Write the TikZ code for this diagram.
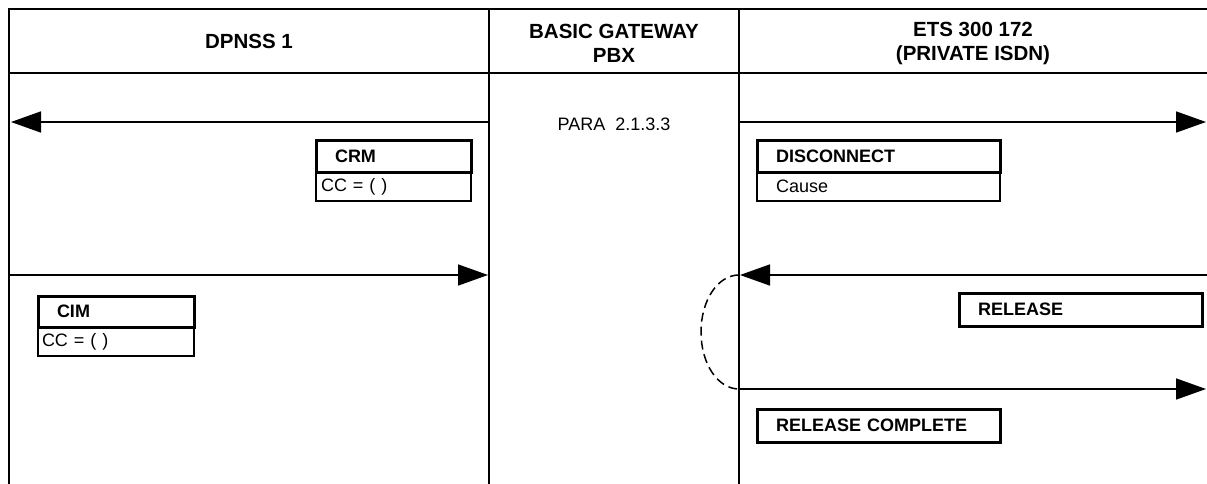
\documentclass[tikz,border=0pt]{standalone}
\usepackage{fontspec}
\setmainfont{Liberation Sans}
\usetikzlibrary{arrows.meta}
\begin{document}
\begin{tikzpicture}[x=1pt,y=-1pt,
  frame/.style={line width=2.6pt},
  lane/.style={line width=2.2pt},
  msgline/.style={line width=1.6pt, -{Triangle[length=30pt,width=21pt]}},
  hdr/.style={font=\fontsize{20.5}{24}\selectfont\bfseries, align=center, inner sep=0pt},
  mbox/.style={draw, line width=3pt, outer sep=0pt, anchor=north west, minimum height=31pt, inner xsep=19pt, inner ysep=0pt, align=left, font=\fontsize{18}{21}\selectfont\bfseries},
  pbox/.style={draw, line width=1.3pt, outer sep=0pt, anchor=north west, minimum height=29pt, inner ysep=0pt, align=left, font=\fontsize{18}{21}\selectfont},
  dashcurve/.style={line width=1.5pt, dash pattern=on 9pt off 5pt},
]
\useasboundingbox (0,0) rectangle (1207,484);

% frame and lifelines
\coordinate (tl) at (9,9);
\coordinate (tr) at (1207,9);
\coordinate (hl) at (9,73);
\coordinate (hr) at (1207,73);
\coordinate (l1t) at (9,8);   \coordinate (l1b) at (9,484);
\coordinate (l2t) at (489,8); \coordinate (l2b) at (489,484);
\coordinate (l3t) at (739,8); \coordinate (l3b) at (739,484);
\draw[frame] (tl) -- (tr);
\draw[frame] (hl) -- (hr);
\draw[lane] (l1t) -- (l1b);
\draw[lane] (l2t) -- (l2b);
\draw[lane] (l3t) -- (l3b);

% headers
\node[hdr] (h1) at (249,41) {DPNSS 1};
\node[hdr] (h2) at (614,43) {BASIC GATEWAY\\PBX};
\node[hdr] (h3) at (973,43) {ETS 300 172\\(PRIVATE ISDN)};

% PARA label
\node[font=\fontsize{18}{21}\selectfont, inner sep=0pt] (para) at (614,124) {PARA~~2.1.3.3};

% arrow end points
\coordinate (a1a) at (489,122); \coordinate (a1b) at (11,122);
\coordinate (a1c) at (739,122); \coordinate (a1d) at (1206,122);
\coordinate (a2a) at (9,275);   \coordinate (a2b) at (488,275);
\coordinate (a2c) at (1207,275); \coordinate (a2d) at (740,275);
\coordinate (a3a) at (739,389); \coordinate (a3b) at (1206,389);

\draw[msgline] (a1a) -- (a1b);
\draw[msgline] (a1c) -- (a1d);
\draw[msgline] (a2a) -- (a2b);
\draw[msgline] (a2c) -- (a2d);
\draw[msgline] (a3a) -- (a3b);

% dashed curve
\coordinate (c1) at (739,275);
\coordinate (cm) at (701,332);
\coordinate (c2) at (739,389);
\draw[dashcurve] (c1) .. controls (718,275) and (701,300) .. (cm)
                      .. controls (701,364) and (718,389) .. (c2);

% message boxes
\node[mbox, text width=117pt] (crm) at (316,141) {CRM};
\node[pbox, inner xsep=5pt, text width=145pt] (crmp) at (crm.south west) {CC = ( )};

\node[mbox, text width=205pt] (disc) at (757,141) {DISCONNECT};
\node[pbox, inner xsep=19pt, text width=205pt] (discp) at (disc.south west) {Cause};

\node[mbox, text width=118pt] (cim) at (38,296) {CIM};
\node[pbox, inner xsep=4pt, text width=148pt] (cimp) at (cim.south west) {CC = ( )};

\node[mbox, text width=205pt, minimum height=33pt] (rel) at (959,293) {RELEASE};
\node[mbox, text width=205pt, minimum height=33pt] (relc) at (757,409) {RELEASE COMPLETE};
\end{tikzpicture}
\end{document}
